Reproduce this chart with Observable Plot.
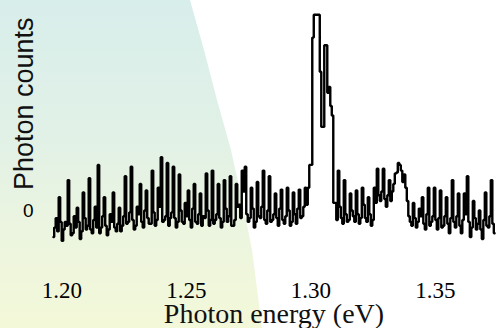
<!DOCTYPE html>
<html>
<head>
<meta charset="utf-8">
<script src="https://cdn.jsdelivr.net/npm/d3@7"></script>
<script src="https://cdn.jsdelivr.net/npm/@observablehq/plot@0.6"></script>
<style>
  html, body { margin: 0; padding: 0; background: #fff; color: #000; }
  #wrap { position: relative; width: 499px; height: 328px; overflow: hidden; }
  #wash {
    position: absolute; left: 0; top: 0; width: 499px; height: 328px;
    background: linear-gradient(to bottom, #d8eeeb 0%, #e1f1e7 40%, #ecf5df 72%, #f3f8d8 100%);
    clip-path: polygon(0px 0px, 190px 0px, 204px 50px, 217px 100px, 231px 150px, 242px 200px, 252px 250px, 262px 328px, 0px 328px);
  }
  #wrap svg { position: relative; }
</style>
</head>
<body>
<div id="wrap"><div id="wash"></div></div>
<script>
// Photon-count spectrum sampled on a uniform energy grid (eV)
const energyStart = 1.19659;
const energyStep = 0.0006025;

const counts = [
  -14,-9, -4,-11, 7,-6, -16,-10, -6,-8, 16,-7, -13,-12, -3,-9, 1.5,-6, -15,-11,
  9.5,-4, -10,-8, 17,-10, -12,-5, 2,-9, 24,-12, -9,-3, 7,-8, -13,-10, -2,-6,
  9.5,-9, -11,-7, 1.5,-11, -8,-3, 18,-7, -6,-1, 23,-5, -10,-8, 2,-2, 14,-6,
  -9,0, 10.5,-4, -7,-7, 21,-1, -8,-5, 12,2, 28,-6, -5,-3, 25,-8, -4,-1,
  23,-4, -9,-6, 19,0, -6,-7, 4,-3, 10.5,-5, -9,1, 14,-6, -7,-2, 9,-8,
  -3,-4, 19.5,0, -8,-5, 21,-7, -5,-2, 14,-4, -9,-6, 16,1, -6,-3, 18,-8,
  -8,-5, 14,2, 3,-4, 21,10, 23,-2, -6,-4, 12,1, -9,-6, 15,-3, -4,2,
  21,-5, -7,0, 18,-6, -5,-2, 9,-4, -8,1, 11,-5, -7,-3, 12,0, -8,-6,
  9.5,-2, -7,1, 11,-4, -3,2, 12,3, 12,24, 24,91, 103,103, 103,103, 73,44,
  44,87, 87,62, 65,55, 50,4, 4,-5, 21,2, -4,-7, 16,-2, -6,-5, 9,0,
  -3,-6, 10.5,-2, -7,-4, 12,3, -4,-6, 7,-2, -8,-5, 12,4, 22,8, 5,10,
  22,6, 2,8, 16,5, 10,14, 19.5,20, 25,24, 21,15, 19,12, 5,-3, -6,-8,
  4,-4, -9,-6, 1,-3, 7,-7, -10,-2, 12,-8, -6,-3, 12,-5, -10,-4, 10.5,-9,
  -8,-3, 7,-7, -12,-4, 16,-6, -9,-3, 9,-8, -12,-5, 9,-2, 18,-6, -14,-9,
  5,-4, -10,-7, 0,-10, -15,-5, 9.5,-8, -9,-3, 16,-7,
  -12
];

const xTicks = [1.20, 1.25, 1.30, 1.35];
const yTicks = [0];
const xLabel = "Photon energy (eV)";
const yLabel = "Photon counts";

const spectrum = counts.map((c, i) => ({energy: energyStart + i * energyStep, count: c}));

const chart = Plot.plot({
  width: 499,
  height: 328,
  marginLeft: 43,
  marginRight: 1,
  marginTop: 10.5,
  marginBottom: 80,
  style: {background: "transparent", overflow: "visible"},
  x: {domain: [1.1926, 1.3753]},
  y: {domain: [-20, 105]},
  marks: [
    Plot.axisX({
      ticks: xTicks, tickFormat: d => d.toFixed(2), tickSize: 0, tickPadding: 33,
      fontSize: 23, fontFamily: "Liberation Serif", label: null
    }),
    Plot.axisY({
      ticks: yTicks, tickSize: 0, tickPadding: 10,
      fontSize: 19, fontFamily: "Liberation Sans", label: null
    }),
    Plot.lineY(spectrum, {
      x: "energy", y: "count", curve: "step",
      stroke: "#000", strokeWidth: 2.4, strokeLinejoin: "miter"
    }),
    Plot.text([xLabel], {
      text: d => d, frameAnchor: "bottom", textAnchor: "middle", lineAnchor: "middle",
      dx: 3, dy: 66, fontSize: 28, fontFamily: "Liberation Serif", fill: "#111"
    }),
    Plot.text([yLabel], {
      text: d => d, frameAnchor: "left", textAnchor: "middle", lineAnchor: "middle",
      rotate: -90, dx: -19, dy: -26, fontSize: 27, fontFamily: "Liberation Sans", fill: "#111"
    })
  ]
});

document.getElementById("wrap").appendChild(chart);
</script>
</body>
</html>
